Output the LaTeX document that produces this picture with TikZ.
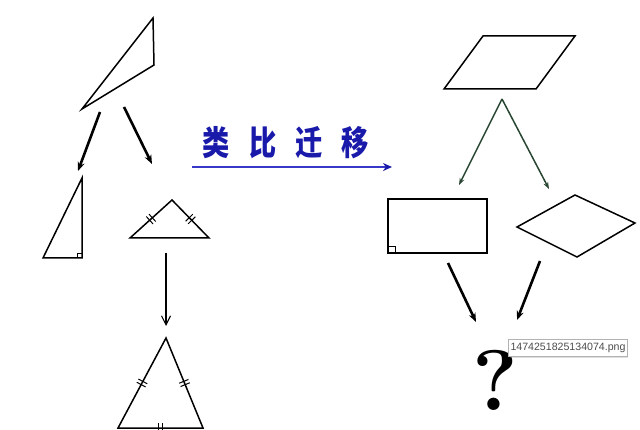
\documentclass[tikz,border=0pt]{standalone}
\usepackage{fontspec}
\newfontfamily\cjk{Noto Sans CJK SC}
\newfontfamily\tipfont{Liberation Sans}
\usetikzlibrary{arrows.meta,decorations.markings,shadows}
\definecolor{textblau}{RGB}{25,25,170}
\definecolor{pfeilblau}{RGB}{55,55,200}
\definecolor{pfeilgruen}{RGB}{40,70,50}
\tikzset{
  form/.style={black, line width=1.5pt, line join=miter},
  dickpfeil/.style={line width=2.6pt, -{Stealth[length=9pt,width=7pt]}},
  striche/.style={postaction={decorate, decoration={markings, mark=at position 0.5 with {\draw[line width=1pt] (-1.8pt,-5pt) -- (-1.8pt,5pt) (1.8pt,-5pt) -- (1.8pt,5pt);}}}},
}
\begin{document}
\begin{tikzpicture}[x=1pt,y=1pt]
	\useasboundingbox (0,0) rectangle (640,-430);
	% das spitze dreieck oben links
	\coordinate (d1) at (153,-18);
	\coordinate (d2) at (154,-65);
	\coordinate (d3) at (82,-109);
	\draw[form] (d1) -- (d2) -- (d3) -- cycle;
	% pfeile nach unten
	\coordinate (p1a) at (100,-112);
	\coordinate (p1b) at (78,-171);
	\coordinate (p2a) at (124,-107);
	\coordinate (p2b) at (152,-164);
	\draw[dickpfeil] (p1a) -- (p1b);
	\draw[dickpfeil] (p2a) -- (p2b);
	% rechtwinkliges dreieck
	\coordinate (r1) at (82,-178);
	\coordinate (r2) at (82,-258);
	\coordinate (r3) at (43,-258);
	\draw[form] (r1) -- (r2) -- (r3) -- cycle;
	\draw[line width=0.8pt] (77,-258) -- (77,-253) -- (82,-253);
	% gleichschenkliges dreieck
	\coordinate (g1) at (172,-200);
	\coordinate (g2) at (209,-238);
	\coordinate (g3) at (130,-238);
	\draw[form] (g1) -- (g2) -- (g3) -- cycle;
	\path[striche] (g3) -- (g1);
	\path[striche] (g1) -- (g2);
	% pfeil zum gleichseitigen dreieck
	\coordinate (v1) at (166,-253);
	\coordinate (v2) at (166,-326);
	\draw[line width=1.1pt, -{Straight Barb[length=9pt,width=9pt]}] (v1) -- (v2);
	% gleichseitiges dreieck
	\coordinate (e1) at (166,-338);
	\coordinate (e2) at (203,-428);
	\coordinate (e3) at (118,-428);
	\draw[form] (e1) -- (e2) -- (e3) -- cycle;
	\path[striche] (e3) -- (e1);
	\path[striche] (e1) -- (e2);
	\path[striche] (e2) -- (e3);
	% text und blauer pfeil
	\node[textblau, font=\cjk\bfseries\fontsize{34}{34}\selectfont, xscale=0.8, transform shape] (titel) at (286,-143) {类\hspace{24pt}比\hspace{24pt}迁\hspace{24pt}移};
	\coordinate (b1) at (192,-167);
	\coordinate (b2) at (392,-167);
	\draw[pfeilblau, line width=2pt, -{Stealth[length=9pt,width=8pt,color=textblau]}] (b1) -- (b2);
	% parallelogramm
	\coordinate (q1) at (483,-36);
	\coordinate (q2) at (575,-36);
	\coordinate (q3) at (536,-89);
	\coordinate (q4) at (444,-89);
	\draw[form] (q1) -- (q2) -- (q3) -- (q4) -- cycle;
	% gruene pfeile
	\coordinate (s0) at (502,-99);
	\coordinate (s1) at (459,-185);
	\coordinate (s2) at (549,-189);
	\draw[pfeilgruen, line width=1.5pt, -{Stealth[length=7pt,width=5pt]}] (s0) -- (s1);
	\draw[pfeilgruen, line width=1.5pt, -{Stealth[length=7pt,width=5pt]}] (s0) -- (s2);
	% rechteck
	\coordinate (k1) at (388,-199);
	\coordinate (k2) at (487,-253);
	\draw[form] (k1) rectangle (k2);
	\draw[line width=0.8pt] (388,-246) -- (395,-246) -- (395,-253);
	% raute
	\coordinate (w1) at (517,-227);
	\coordinate (w2) at (575,-195);
	\coordinate (w3) at (635,-223);
	\coordinate (w4) at (577,-257);
	\draw[form] (w1) -- (w2) -- (w3) -- (w4) -- cycle;
	% pfeile zum fragezeichen
	\coordinate (f1a) at (448,-263);
	\coordinate (f1b) at (476,-322);
	\coordinate (f2a) at (540,-261);
	\coordinate (f2b) at (517,-320);
	\draw[dickpfeil] (f1a) -- (f1b);
	\draw[dickpfeil] (f2a) -- (f2b);
	% fragezeichen
	\node[font=\bfseries\fontsize{86}{86}\selectfont] (frage) at (495,-380) {?};
	% tooltip
	\node[draw=gray!60, fill=white, drop shadow={opacity=0.25, shadow xshift=1pt, shadow yshift=-1pt}, font=\tipfont\fontsize{10.6}{10.6}\selectfont, text=black!70, inner sep=2pt, minimum height=17pt] (tip) at (568,-348) {1474251825134074.png};
\end{tikzpicture}
\end{document}
